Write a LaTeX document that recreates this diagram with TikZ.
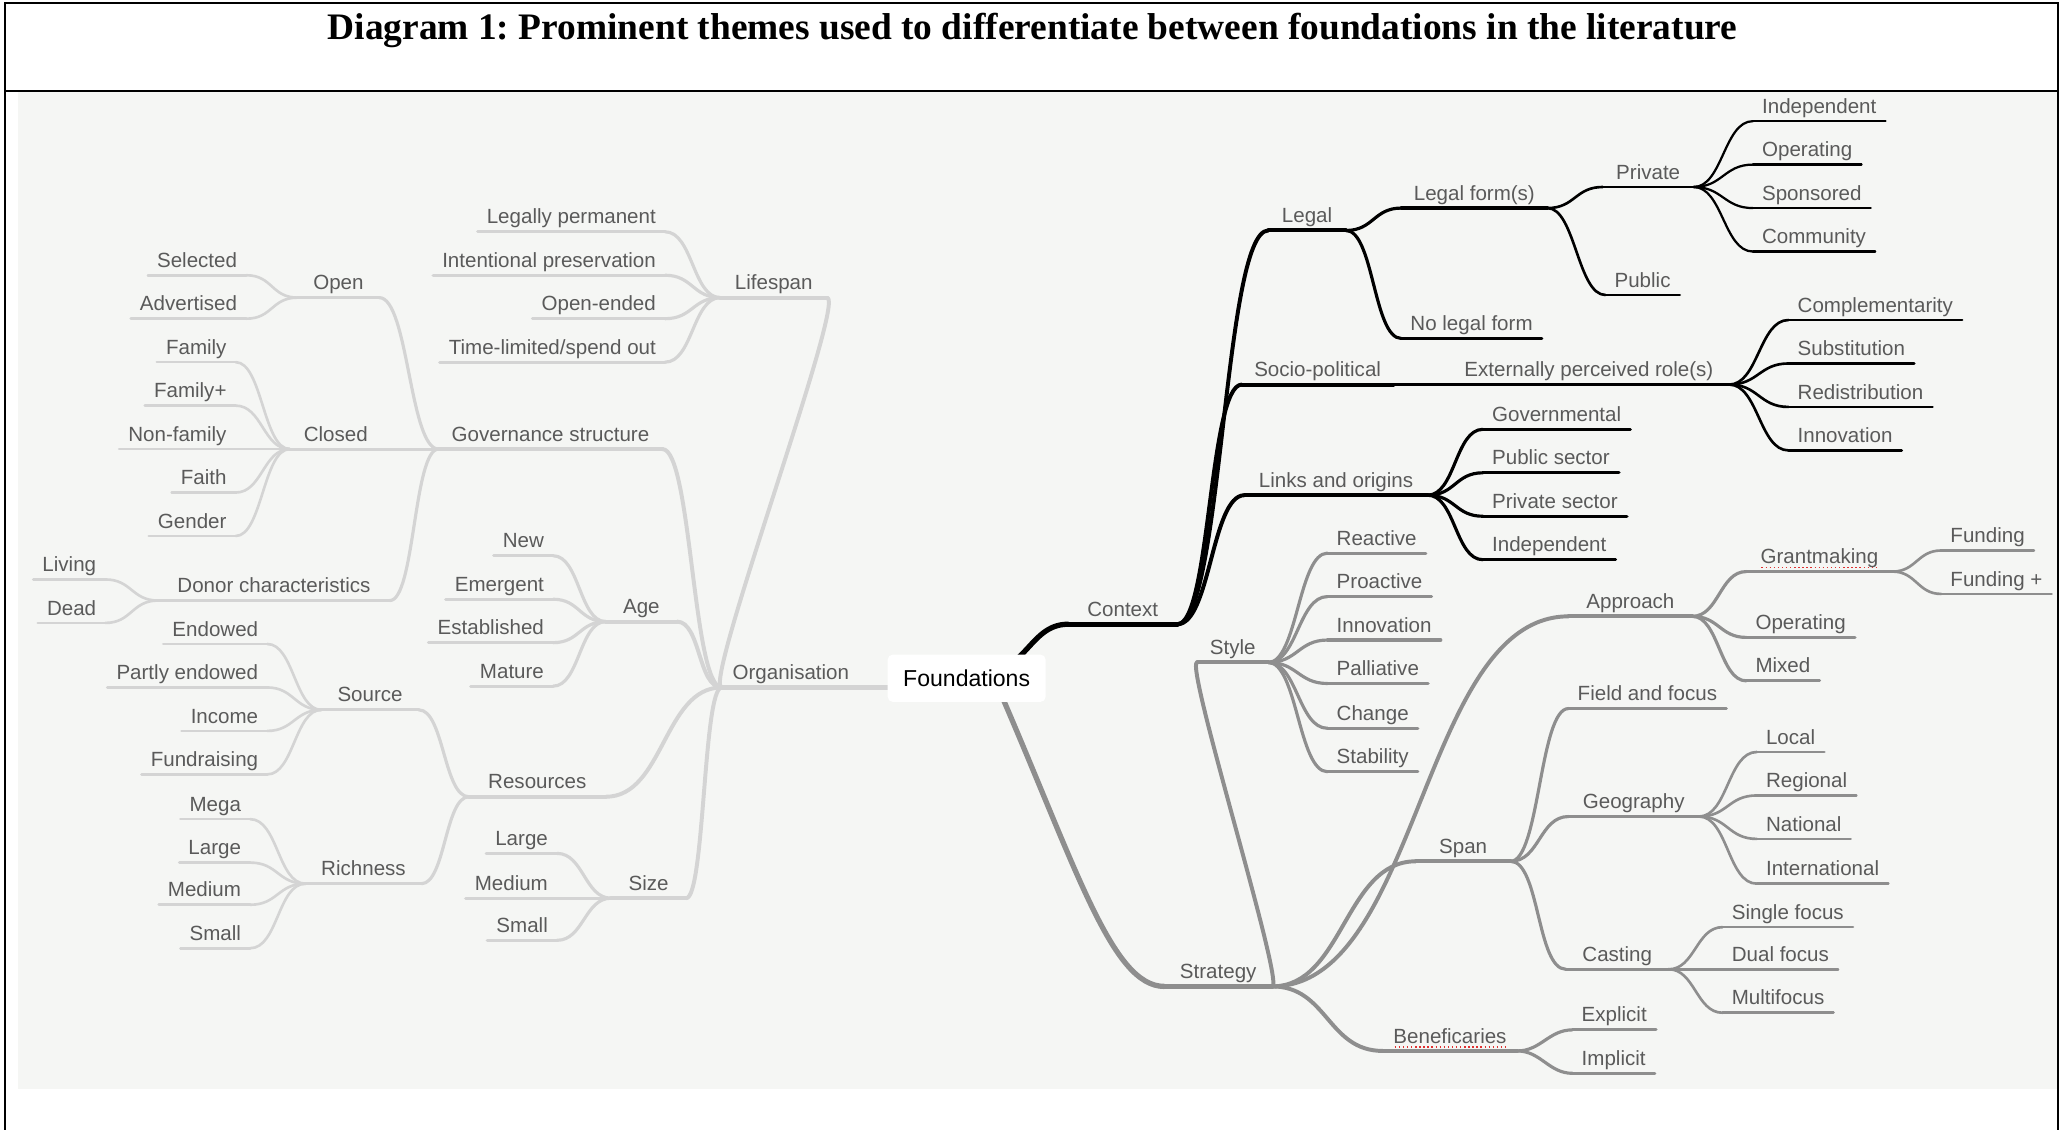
\documentclass[tikz,border=0pt]{standalone}
\usepackage{fontspec}
\setmainfont{Liberation Sans}
\newfontfamily\titlefont{Liberation Serif}
\usetikzlibrary{calc}
\frenchspacing
\definecolor{bgc}{HTML}{F5F6F4}
\definecolor{colO}{HTML}{D4D4D4}
\definecolor{colS}{HTML}{8E8E8E}
\definecolor{colC}{HTML}{000000}
\definecolor{txtc}{HTML}{5A5A5A}
\definecolor{spellred}{HTML}{E03030}
\pgfdeclarelayer{bglayer}
\pgfdeclarelayer{linelayer}
\pgfsetlayers{bglayer,linelayer,main}
\tikzset{
  tp/.style={font=\fontsize{15.6}{18}\selectfont, text=txtc, text height=11pt, text depth=3pt, inner xsep=7pt, inner ysep=3pt, outer sep=0pt},
  cR/.style={to path={.. controls ($(\tikztostart)+(#1,0)$) and ($(\tikztotarget)+(-#1,0)$) .. (\tikztotarget)}},
  cR/.default=22,
  cL/.style={to path={.. controls ($(\tikztostart)+(-#1,0)$) and ($(\tikztotarget)+(#1,0)$) .. (\tikztotarget)}},
  cL/.default=22,
  ul/.style={append after command={(\tikzlastnode.south west) edge[#1] (\tikzlastnode.south east)}},
  lnbase/.style={draw, line cap=round, line join=round},
  O1/.style={lnbase, draw=colO, line width=4pt},
  O2/.style={lnbase, draw=colO, line width=3pt},
  O3/.style={lnbase, draw=colO, line width=2.4pt},
  O4/.style={lnbase, draw=colO, line width=2pt},
  C1/.style={lnbase, draw=colC, line width=4pt},
  C2/.style={lnbase, draw=colC, line width=3pt},
  C3/.style={lnbase, draw=colC, line width=2.4pt},
  C4/.style={lnbase, draw=colC, line width=2pt},
  C5/.style={lnbase, draw=colC, line width=1.7pt},
  S1/.style={lnbase, draw=colS, line width=4pt},
  S2/.style={lnbase, draw=colS, line width=3pt},
  S3/.style={lnbase, draw=colS, line width=2.4pt},
  S4/.style={lnbase, draw=colS, line width=2pt},
  rootbox/.style={fill=white, rounded corners=4pt, minimum width=120pt, minimum height=36pt, inner sep=0pt, font=\fontsize{17.5}{20}\selectfont, text=black},
  frameline/.style={draw=black, line width=1.6pt},
  spell/.style={draw=spellred, dotted, line width=1.1pt}
}
\begin{document}
\begin{tikzpicture}[x=1pt,y=-1pt]
\useasboundingbox (0,0) rectangle (1568,858);
\begin{pgfonlayer}{bglayer}
  \fill[bgc] (14,70) rectangle (1562,827);
\end{pgfonlayer}
% frame and title
\draw[frameline] (4,870) -- (4,2.5) -- (1563,2.5) -- (1563,870);
\draw[frameline] (4,69) -- (1563,69);
\node[font=\titlefont\bfseries\fontsize{28.4}{32}\selectfont, anchor=base] (title) at (784,30) {Diagram 1: Prominent themes used to differentiate between foundations in the literature};

% root
\node[rootbox] (root) at (734,515) {Foundations};

% ================= Organisation branch =================
\node[tp, anchor=south west, minimum width=105pt, ul=O1] (org) at (548,522) {Organisation};
\node[tp, anchor=south west, minimum width=81pt, ul=O2] (life) at (547,226) {Lifespan};
\node[tp, anchor=south west, minimum width=170pt, ul=O2] (gov) at (333,341) {Governance structure};
\node[tp, anchor=south west, minimum width=54pt, ul=O2] (age) at (460,472) {Age};
\node[tp, anchor=south west, minimum width=104pt, ul=O2] (res) at (356,605) {Resources};
\node[tp, anchor=south west, minimum width=57pt, ul=O2] (size) at (464,682) {Size};
\draw[O2] (org.south west) to[cL=15] (life.south east);
\draw[O2] (org.south west) to[cL=22] (gov.south east);
\draw[O2] (org.south west) to[cL=18] (age.south east);
\draw[O2] (org.south west) to[cL=44] (res.south east);
\draw[O2] (org.south west) to[cL=14] (size.south east);

% Lifespan
\node[tp, anchor=south east, ul=O3] (lp1) at (505,176) {Legally permanent};
\node[tp, anchor=south east, ul=O3] (lp2) at (505,209) {Intentional preservation};
\node[tp, anchor=south east, ul=O3] (lp3) at (505,242) {Open-ended};
\node[tp, anchor=south east, ul=O3] (lp4) at (505,275) {Time-limited/spend out};
\foreach \nn in {lp1,lp2,lp3,lp4} {\draw[O3] (life.south west) to[cL=21] (\nn.south east);}

% Governance structure
\node[tp, anchor=south west, minimum width=62pt, ul=O3] (open) at (226,226) {Open};
\node[tp, anchor=south west, minimum width=70pt, ul=O3] (closed) at (220,341) {Closed};
\node[tp, anchor=south west, minimum width=176pt, ul=O3] (donor) at (120,456) {Donor characteristics};
\draw[O3] (gov.south west) to[cL=22] (open.south east);
\draw[O3] (gov.south west) to[cL=20] (closed.south east);
\draw[O3] (gov.south west) to[cL=19] (donor.south east);

\foreach \nn/\yy/\lab in {sel/209/Selected, adv/242/Advertised} {
  \node[tp, anchor=south east, ul=O4] (\nn) at (187,\yy) {\lab};
  \draw[O4] (open.south west) to[cL=20] (\nn.south east);
}
\foreach \nn/\yy/\lab in {fam/275/Family, famp/308/Family+, nonfam/341/Non-family, faith/374/Faith, gender/407/Gender} {
  \node[tp, anchor=south east, ul=O4] (\nn) at (179,\yy) {\lab};
  \draw[O4] (closed.south west) to[cL=20] (\nn.south east);
}
\foreach \nn/\yy/\lab in {living/440/Living, dead/473/Dead} {
  \node[tp, anchor=south east, ul=O4] (\nn) at (80,\yy) {\lab};
  \draw[O4] (donor.south west) to[cL=20] (\nn.south east);
}

% Age
\foreach \nn/\yy/\lab in {new/422/New, emerg/455/Emergent, estab/488/Established, mature/521/Mature} {
  \node[tp, anchor=south east, ul=O3] (\nn) at (420,\yy) {\lab};
  \draw[O3] (age.south west) to[cL=20] (\nn.south east);
}

% Resources
\node[tp, anchor=south west, minimum width=74pt, ul=O3] (src) at (244,539) {Source};
\node[tp, anchor=south west, minimum width=88pt, ul=O3] (rich) at (232,671) {Richness};
\draw[O3] (res.south west) to[cL=19] (src.south east);
\draw[O3] (res.south west) to[cL=18] (rich.south east);
\foreach \nn/\yy/\lab in {endow/489/Endowed, partly/522/Partly endowed, income/555/Income, fundr/588/Fundraising} {
  \node[tp, anchor=south east, ul=O4] (\nn) at (203,\yy) {\lab};
  \draw[O4] (src.south west) to[cL=20] (\nn.south east);
}
\foreach \nn/\yy/\lab in {mega/622/Mega, rlarge/655/Large, rmedium/687/Medium, rsmall/720/Small} {
  \node[tp, anchor=south east, ul=O4] (\nn) at (190,\yy) {\lab};
  \draw[O4] (rich.south west) to[cL=21] (\nn.south east);
}

% Size
\foreach \nn/\yy/\lab in {slarge/648/Large, smedium/682/Medium, ssmall/714/Small} {
  \node[tp, anchor=south east, ul=O3] (\nn) at (423,\yy) {\lab};
  \draw[O3] (size.south west) to[cL=20] (\nn.south east);
}

% ================= Context branch =================
\node[tp, anchor=south west, minimum width=83pt, ul=C1] (ctx) at (811,474) {Context};
\node[tp, anchor=south west, minimum width=59pt, ul=C2] (legal) at (963,175) {Legal};
\node[tp, anchor=south west, minimum width=115pt, ul=C2] (socio) at (943,292) {Socio-political};
\node[tp, anchor=south west, minimum width=139pt, ul=C2] (links) at (945,376) {Links and origins};
\draw[C2] (ctx.south east) to[cR=34] (legal.south west);
\draw[C2] (ctx.south east) to[cR=25] (socio.south west);
\draw[C2] (ctx.south east) to[cR=25] (links.south west);

\node[tp, anchor=south west, minimum width=111pt, ul=C3] (lform) at (1064,158) {Legal form(s)};
\node[tp, anchor=south west, ul=C3] (nolegal) at (1064,257) {No legal form};
\draw[C3] (legal.south east) to[cR=21] (lform.south west);
\draw[C3] (legal.south east) to[cR=21] (nolegal.south west);

\node[tp, anchor=south west, minimum width=69pt, ul=C4] (priv) at (1217,142) {Private};
\node[tp, anchor=south west, ul=C4] (pub) at (1219,224) {Public};
\draw[C4] (lform.south east) to[cR=21] (priv.south west);
\draw[C4] (lform.south east) to[cR=21] (pub.south west);

\foreach \nn/\yy/\lab in {pind/92/Independent, poper/125/Operating, pspon/158/Sponsored, pcomm/191/Community} {
  \node[tp, anchor=south west, ul=C5] (\nn) at (1331,\yy) {\lab};
  \draw[C5] (priv.south east) to[cR=22] (\nn.south west);
}

\node[tp, anchor=south west, minimum width=213pt, ul=C3] (ext) at (1100,292) {Externally perceived role(s)};
\draw[C3] (socio.south east) to[cR=20] (ext.south west);
\foreach \nn/\yy/\lab in {compl/243/Complementarity, subst/276/Substitution, redis/309/Redistribution, innov/342/Innovation} {
  \node[tp, anchor=south west, ul=C4] (\nn) at (1358,\yy) {\lab};
  \draw[C4] (ext.south east) to[cR=22] (\nn.south west);
}

\foreach \nn/\yy/\lab in {gover/326/Governmental, pubsec/359/Public sector, privsec/392/Private sector, lind/425/Independent} {
  \node[tp, anchor=south west, ul=C3] (\nn) at (1126,\yy) {\lab};
  \draw[C3] (links.south east) to[cR=21] (\nn.south west);
}

% ================= Strategy branch =================
\node[tp, anchor=south west, minimum width=82pt, ul=S1] (strat) at (884,749) {Strategy};
\node[tp, anchor=south west, minimum width=54pt, ul=S2] (style) at (909,503) {Style};
\node[tp, anchor=south west, minimum width=94pt, ul=S2] (appr) at (1191,468) {Approach};
\node[tp, anchor=south west, minimum width=72pt, ul=S2] (span) at (1075,654) {Span};
\node[tp, anchor=south west, minimum width=102pt, ul=S2] (benef) at (1050,798) {Beneficaries};
\draw[S2] (strat.south east) to[cR=10] (style.south west);
\draw[S2] (strat.south east) to[cR=112] (appr.south west);
\draw[S2] (strat.south east) to[cR=54] (span.south west);
\draw[S2] (strat.south east) to[cR=42] (benef.south west);
\draw[spell] ($(benef.base)+(-42,3)$) -- ($(benef.base)+(42,3)$);

\foreach \nn/\yy/\lab in {react/420/Reactive, proact/453/Proactive, sinnov/486/Innovation, pallia/519/Palliative, change/553/Change, stab/586/Stability} {
  \node[tp, anchor=south west, ul=S3] (\nn) at (1008,\yy) {\lab};
  \draw[S3] (style.south east) to[cR=22] (\nn.south west);
}

\node[tp, anchor=south west, minimum width=111pt, ul=S3] (grant) at (1326,434) {Grantmaking};
\node[tp, anchor=south west, ul=S3] (aoper) at (1326,484) {Operating};
\node[tp, anchor=south west, ul=S3] (amixed) at (1326,517) {Mixed};
\draw[S3] (appr.south east) to[cR=20] (grant.south west);
\draw[S3] (appr.south east) to[cR=20] (aoper.south west);
\draw[S3] (appr.south east) to[cR=20] (amixed.south west);
\draw[spell] ($(grant.base)+(-44,3)$) -- ($(grant.base)+(44,3)$);
\foreach \nn/\yy/\lab in {fund/418/Funding, fundp/451/Funding +} {
  \node[tp, anchor=south west, ul=S4] (\nn) at (1474,\yy) {\lab};
  \draw[S4] (grant.south east) to[cR=18] (\nn.south west);
}

\node[tp, anchor=south west, ul=S3] (field) at (1191,538) {Field and focus};
\node[tp, anchor=south west, minimum width=99pt, ul=S3] (geo) at (1191,620) {Geography};
\node[tp, anchor=south west, minimum width=78pt, ul=S3] (cast) at (1189,736) {Casting};
\draw[S3] (span.south east) to[cR=22] (field.south west);
\draw[S3] (span.south east) to[cR=22] (geo.south west);
\draw[S3] (span.south east) to[cR=22] (cast.south west);
\foreach \nn/\yy/\lab in {local/571/Local, region/604/Regional, nation/637/National, intern/671/International} {
  \node[tp, anchor=south west, ul=S4] (\nn) at (1334,\yy) {\lab};
  \draw[S4] (geo.south east) to[cR=22] (\nn.south west);
}
\foreach \nn/\yy/\lab in {single/704/Single focus, dual/736/Dual focus, multi/769/Multifocus} {
  \node[tp, anchor=south west, ul=S4] (\nn) at (1308,\yy) {\lab};
  \draw[S4] (cast.south east) to[cR=20] (\nn.south west);
}
\foreach \nn/\yy/\lab in {expl/782/Explicit, impl/815/Implicit} {
  \node[tp, anchor=south west, ul=S3] (\nn) at (1194,\yy) {\lab};
  \draw[S3] (benef.south east) to[cR=18] (\nn.south west);
}

% root connectors (under the root box)
\begin{pgfonlayer}{linelayer}
  \draw[O1] (org.south east) -- (org.south east -| root.center);
  \draw[C1] (root.center) .. controls ($(root.center)+(46,0)$) and ($(ctx.south west)+(-31,0)$) .. (ctx.south west);
  \draw[S1] ($(root.center)+(23,5)$) .. controls ($(root.center)+(83,143)$) and ($(strat.south west)+(-40,0)$) .. (strat.south west);
\end{pgfonlayer}
\end{tikzpicture}
\end{document}
